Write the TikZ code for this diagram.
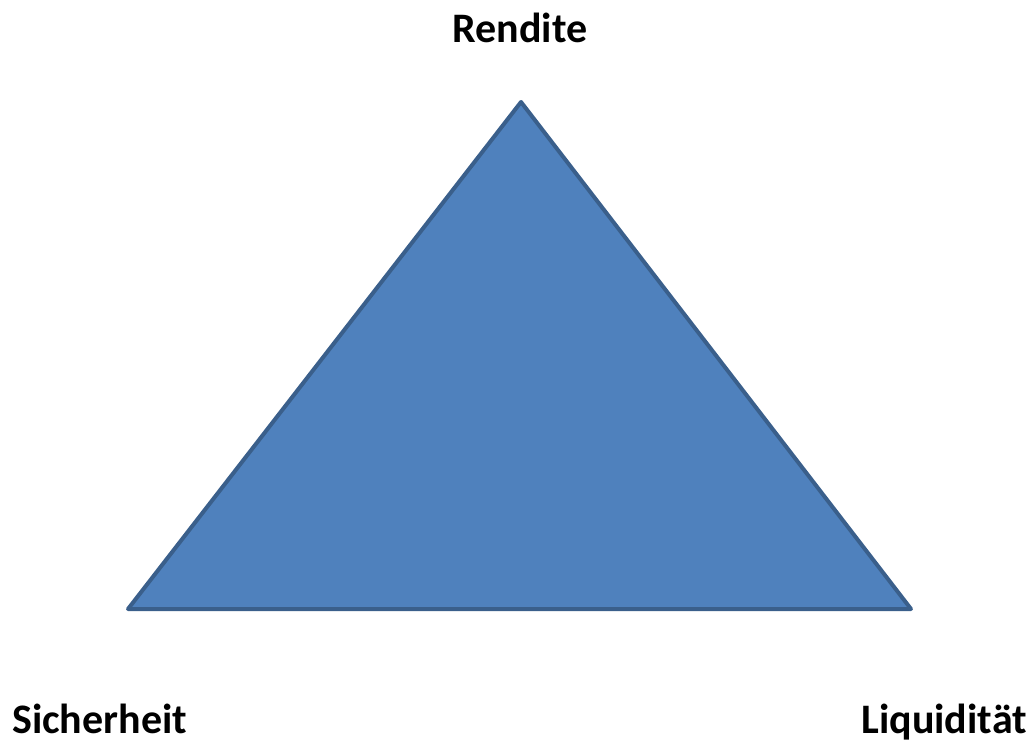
\documentclass[tikz,border=0pt]{standalone}
\usepackage{fontspec}
\setmainfont{Carlito}
\definecolor{triblue}{HTML}{4F81BD}
\definecolor{triedge}{HTML}{3A5F8B}

\begin{document}
\begin{tikzpicture}[x=1pt, y=-1pt,
        corner/.style={font=\fontsize{42}{50}\selectfont\bfseries, inner sep=0pt}]
        % Fix the page size to the reference
        \useasboundingbox (0,0) rectangle (1036,744);

        % Corners of the triangle
        \coordinate (top) at (521,102);
        \coordinate (left) at (128,609);
        \coordinate (right) at (911,609);

        % The triangle itself
        \filldraw[fill=triblue, draw=triedge, line width=4pt, line join=round]
            (top) -- (right) -- (left) -- cycle;

        % Labels at the three corners
        \node[corner, anchor=base] (rendite) at (520,42) {Rendite};
        \node[corner, anchor=base west] (sicherheit) at (12,733) {Sicherheit};
        \node[corner, anchor=base east] (liquiditaet) at (1027,733) {Liquidität};
    \end{tikzpicture}
\end{document}
